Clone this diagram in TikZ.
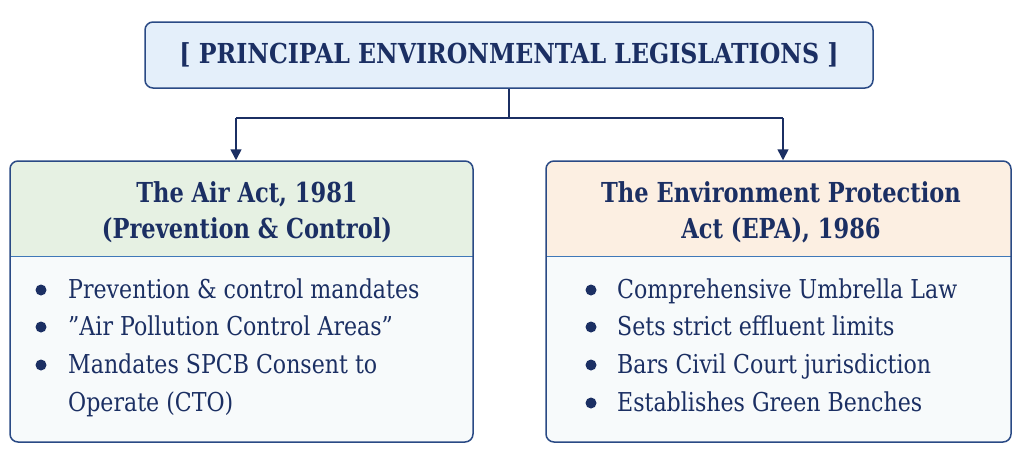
\documentclass[tikz,border=0pt]{standalone}
\usepackage{fontspec}
\setmainfont{DejaVu Serif}
\usetikzlibrary{arrows.meta}
\definecolor{navy}{HTML}{1B2F63}
\definecolor{edge}{HTML}{2A4A85}
\definecolor{sepline}{HTML}{3F78B8}
\definecolor{titlefill}{HTML}{E4EFFA}
\definecolor{greenfill}{HTML}{E6F1E3}
\definecolor{peachfill}{HTML}{FCEFE2}
\definecolor{bodyfill}{HTML}{F7FAFB}
\newcommand{\hd}[1]{\scalebox{0.82}[1]{#1}}
\newcommand{\itm}[1]{\scalebox{0.85}[1]{#1}}
\tikzset{
  boxframe/.style={draw=edge,line width=1.5pt,rounded corners=8pt,rectangle,minimum width=463pt,minimum height=281pt,inner sep=0pt},
  headtext/.style={text=navy,font=\bfseries\fontsize{27.5}{30}\selectfont,anchor=base,inner sep=0pt},
  itemtext/.style={text=navy,font=\fontsize{26}{30}\selectfont,anchor=base west,inner sep=0pt},
  dot/.style={circle,fill=navy,inner sep=0pt,minimum size=11pt},
  conn/.style={draw=navy,line width=1.6pt},
  arr/.style={conn,-{Triangle[length=11pt,width=11pt]}}
}
\begin{document}
\begin{tikzpicture}[x=1pt,y=-1pt]
\useasboundingbox (0,0) rectangle (1024,463);
\fill[white] (0,0) rectangle (1024,463);
% title
\node[draw=edge,line width=1.5pt,fill=titlefill,rounded corners=8pt,minimum width=728pt,minimum height=66pt,inner sep=0pt,text=navy,font=\bfseries\fontsize{27.5}{30}\selectfont] (title) at (509,55) {\scalebox{0.86}[1]{[ PRINCIPAL ENVIRONMENTAL LEGISLATIONS ]}};
% left box fills
\fill[bodyfill,rounded corners=8pt] (10,161) rectangle (473,442);
\fill[greenfill] (10,256) [rounded corners=8pt] -- (10,161) -- (473,161) [sharp corners] -- (473,256) -- cycle;
\draw[sepline,line width=1pt] (10,256) -- (473,256);
\node[boxframe] (air) at (241.5,301.5) {};
% right box fills
\fill[bodyfill,rounded corners=8pt] (546,161) rectangle (1011,442);
\fill[peachfill] (546,256) [rounded corners=8pt] -- (546,161) -- (1011,161) [sharp corners] -- (1011,256) -- cycle;
\draw[sepline,line width=1pt] (546,256) -- (1011,256);
\node[boxframe,minimum width=465pt] (epa) at (778.5,301.5) {};
% connectors
\coordinate (junc) at (509,118);
\coordinate (jl) at (236,118);
\coordinate (jr) at (783,118);
\draw[conn] (title.south) -- (junc);
\draw[conn] (jl) -- (jr);
\draw[arr] (jl) -- (jl |- air.north);
\draw[arr] (jr) -- (jr |- epa.north);
% headers
\node[headtext] (airh1) at (247,202) {\hd{The Air Act, 1981}};
\node[headtext] (airh2) at (247,238) {\hd{(Prevention \& Control)}};
\node[headtext] (epah1) at (781,202) {\hd{The Environment Protection}};
\node[headtext] (epah2) at (781,238) {\hd{Act (EPA), 1986}};
% left items
\node[dot] (la) at (41,290) {};
\node[itemtext] (lat) at (68,298) {\itm{Prevention \& control mandates}};
\node[dot] (lb) at (41,327) {};
\node[itemtext] (lbt) at (68,335) {\itm{\symbol{34}Air Pollution Control Areas\symbol{34}}};
\node[dot] (lc) at (41,365) {};
\node[itemtext] (lct) at (68,373) {\itm{Mandates SPCB Consent to}};
\node[itemtext] (ldt) at (68,411) {\itm{Operate (CTO)}};
% right items
\node[dot] (ra) at (591,290) {};
\node[itemtext] (rat) at (617,298) {\itm{Comprehensive Umbrella Law}};
\node[dot] (rb) at (591,327) {};
\node[itemtext] (rbt) at (617,335) {\itm{Sets strict effluent limits}};
\node[dot] (rc) at (591,365) {};
\node[itemtext] (rct) at (617,373) {\itm{Bars Civil Court jurisdiction}};
\node[dot] (rd) at (591,403) {};
\node[itemtext] (rdt) at (617,411) {\itm{Establishes Green Benches}};
\end{tikzpicture}
\end{document}
